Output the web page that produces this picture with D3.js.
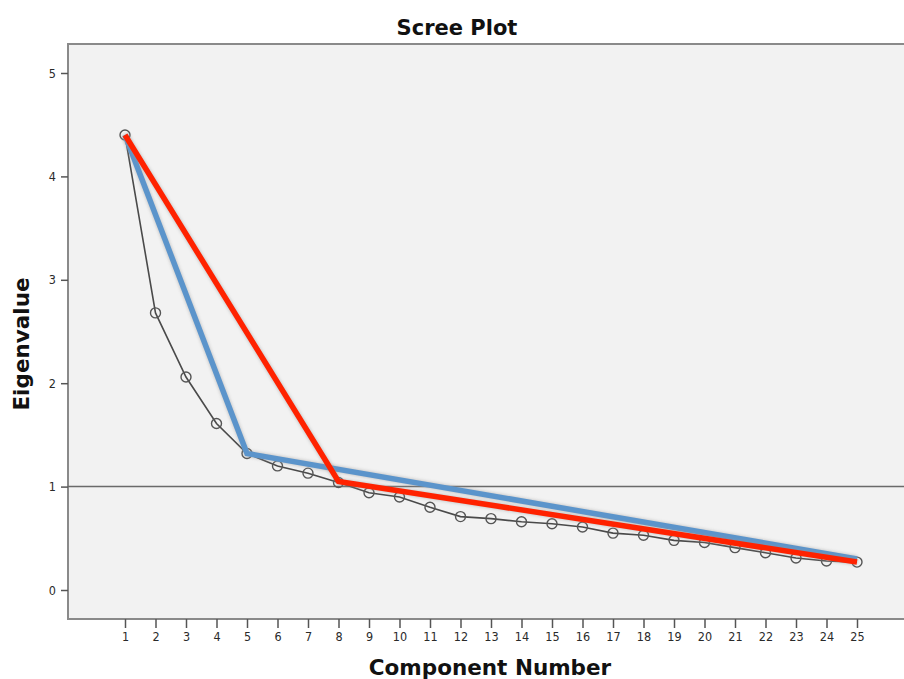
<!DOCTYPE html>
<html>
<head>
<meta charset="utf-8">
<script src="https://cdn.jsdelivr.net/npm/d3@7"></script>
<style>
  body { margin: 0; background: #fff; }
  svg { display: block; }
</style>
</head>
<body>
<svg id="chart" width="904" height="679"></svg>
<script>
(function () {

    const components = d3.range(1, 26);
    const eigenvalues = [4.40, 2.68, 2.06, 1.61, 1.32, 1.20, 1.13, 1.04, 0.94, 0.90,
        0.80, 0.71, 0.69, 0.66, 0.64, 0.61, 0.55, 0.53, 0.48, 0.46,
        0.41, 0.36, 0.31, 0.28, 0.27];
    const yTicks = [0, 1, 2, 3, 4, 5];

    // hand-drawn elbow lines (component, eigenvalue)
    const blueLine = [[1, 4.40], [5, 1.32], [25, 0.30]];
    const redLine = [[1, 4.40], [8, 1.05], [25, 0.27]];
    const refValue = 1;

    const svg = d3.select('#chart');

    const plot = { left: 68, top: 44, right: 912, bottom: 619 };

    const x = d3.scaleLinear().domain([1, 25]).range([125, 857]);
    const y = d3.scaleLinear().domain([0, 5]).range([590, 73]);

    const defs = svg.append('defs');
    defs.append('filter').attr('id', 'shadow')
        .attr('x', '-10%').attr('y', '-10%').attr('width', '120%').attr('height', '120%')
        .append('feGaussianBlur').attr('stdDeviation', 1.5);

    // plot background + frame
    svg.append('rect')
        .attr('x', plot.left).attr('y', plot.top)
        .attr('width', plot.right - plot.left).attr('height', plot.bottom - plot.top)
        .attr('fill', '#f2f2f2')
        .attr('stroke', '#8a8a8a')
        .attr('stroke-width', 2);

    // axes
    const yAxis = d3.axisLeft(y).tickValues(yTicks).tickSize(7).tickPadding(5).tickFormat(d3.format('d'));
    const xAxis = d3.axisBottom(x).tickValues(components).tickSize(9).tickPadding(4).tickFormat(d3.format('d'));

    const gy = svg.append('g').attr('transform', `translate(${plot.left},0)`).call(yAxis);
    const gx = svg.append('g').attr('transform', `translate(0,${plot.bottom})`).call(xAxis);

    [gy, gx].forEach(g => {
        g.select('.domain').remove();
        g.selectAll('.tick line').attr('stroke', '#555').attr('stroke-width', 1.5);
        g.selectAll('.tick text')
            .attr('fill', '#2a2a2a')
            .style('font-family', '"DejaVu Sans Condensed", "DejaVu Sans", sans-serif')
            .style('font-size', '12.5px');
    });

    // reference line at eigenvalue 1
    svg.append('line')
        .attr('x1', plot.left).attr('x2', plot.right)
        .attr('y1', y(refValue)).attr('y2', y(refValue))
        .attr('stroke', '#6a6a6a')
        .attr('stroke-width', 1.5);

    // scree line with hollow markers
    const line = d3.line().x(d => x(d[0])).y(d => y(d[1]));
    const pts = components.map((c, i) => [c, eigenvalues[i]]);

    svg.append('path')
        .datum(pts)
        .attr('d', line)
        .attr('fill', 'none')
        .attr('stroke', '#4a4a4a')
        .attr('stroke-width', 1.6);

    svg.selectAll('circle.pt')
        .data(pts)
        .enter()
        .append('circle')
        .attr('class', 'pt')
        .attr('cx', d => x(d[0]))
        .attr('cy', d => y(d[1]))
        .attr('r', 5)
        .attr('fill', 'none')
        .attr('stroke', '#555')
        .attr('stroke-width', 1.4);

    // elbow lines, with a soft grey halo like the original
    [[blueLine, '#5b94cb'], [redLine, '#ff2200']].forEach(([data, color]) => {
        svg.append('path')
            .datum(data)
            .attr('d', line)
            .attr('fill', 'none')
            .attr('stroke', '#999')
            .attr('stroke-width', 7)
            .attr('opacity', 0.45)
            .attr('filter', 'url(#shadow)');
        svg.append('path')
            .datum(data)
            .attr('d', line)
            .attr('fill', 'none')
            .attr('stroke', color)
            .attr('stroke-width', 5.5)
            .attr('stroke-linejoin', 'miter');
    });

    // titles
    const bold = '"DejaVu Sans", sans-serif';
    svg.append('text')
        .attr('x', 457).attr('y', 35)
        .attr('text-anchor', 'middle')
        .style('font-family', bold).style('font-weight', 'bold').style('font-size', '21px')
        .attr('fill', '#111')
        .text('Scree Plot');

    svg.append('text')
        .attr('x', 490).attr('y', 675)
        .attr('text-anchor', 'middle')
        .style('font-family', bold).style('font-weight', 'bold').style('font-size', '21.5px')
        .attr('fill', '#111')
        .text('Component Number');

    svg.append('text')
        .attr('transform', 'translate(29,344) rotate(-90)')
        .attr('text-anchor', 'middle')
        .style('font-family', bold).style('font-weight', 'bold').style('font-size', '21.5px')
        .attr('fill', '#111')
        .text('Eigenvalue');

})();
</script>
</body>
</html>
